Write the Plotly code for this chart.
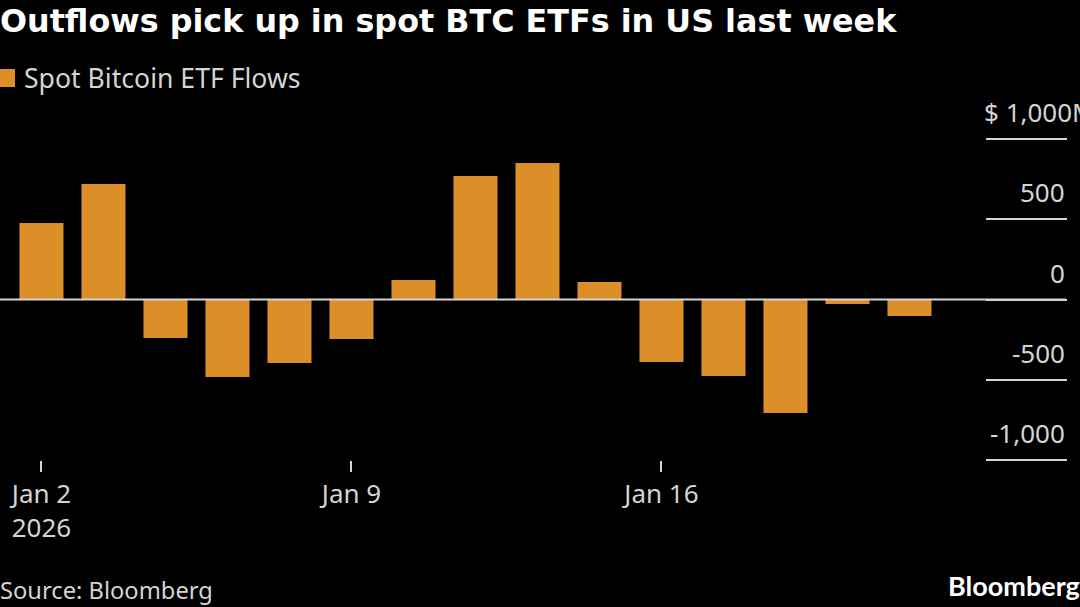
import plotly.graph_objects as go

dates = ["2026-01-02", "2026-01-05", "2026-01-06", "2026-01-07", "2026-01-08",
         "2026-01-09", "2026-01-12", "2026-01-13", "2026-01-14", "2026-01-15",
         "2026-01-16", "2026-01-20", "2026-01-21", "2026-01-22", "2026-01-23"]
flows = [477, 720, -240, -483, -396, -246, 121, 770, 850, 109, -390, -477, -707, -28, -103]
x_tick_vals = ["2026-01-02", "2026-01-09", "2026-01-16"]
x_tick_text = ["Jan 2<br>2026", "Jan 9", "Jan 16"]
y_tick_vals = [-1000, -500, 0, 500, 1000]
y_tick_text = ["-1,000", "-500", "0", "500", "$ 1,000M"]

W, H = 1080, 607
PLOT_RIGHT = 985
PLOT_TOP, PLOT_BOTTOM = 139, 460
BAR = "#dc8f28"
TXT = "#d4d4d4"
BODY = "Noto Sans"

fig = go.Figure(go.Bar(x=dates, y=flows, width=0.71, marker=dict(color=BAR, line_width=0),
                       name="Spot Bitcoin ETF Flows", showlegend=False))


def px(v):
    return v / PLOT_RIGHT


def py(v):
    return 1 - (v - PLOT_TOP) / (PLOT_BOTTOM - PLOT_TOP)


annotations = [
    dict(text="<b>Outflows pick up in spot BTC ETFs in US last week</b>", x=px(-2), y=py(20),
         font=dict(family="DejaVu Sans", size=31.8, color="#ffffff")),
    dict(text="Spot Bitcoin ETF Flows", x=px(22), y=py(78), font=dict(family=BODY, size=26.6, color=TXT)),
    dict(text="Source: Bloomberg", x=px(-2), y=py(590), font=dict(family=BODY, size=23.7, color=TXT)),
    dict(text="<b>Bloomberg</b>", x=px(946), y=py(585), font=dict(family="Lato", size=27, color="#ffffff")),
]
for a in annotations:
    a.update(xref="paper", yref="paper", xanchor="left", yanchor="middle", showarrow=False, align="left")
for v, t in zip(y_tick_vals, y_tick_text):
    annotations.append(dict(text=t, xref="paper", yref="y", x=px(1067) if v != 1000 else px(1098), y=v,
                            xanchor="right", yanchor="bottom", yshift=7, showarrow=False,
                            font=dict(family=BODY, size=26, color=TXT)))

fig.update_layout(
    width=W, height=H, autosize=False,
    margin=dict(l=0, r=W - PLOT_RIGHT, t=PLOT_TOP, b=H - PLOT_BOTTOM, pad=0),
    paper_bgcolor="#000000", plot_bgcolor="#000000",
    showlegend=False,
    annotations=annotations,
    shapes=[dict(type="rect", xref="paper", yref="paper", x0=px(0), x1=px(15),
                 y0=py(87), y1=py(69), fillcolor=BAR, line_width=0, layer="above"),
            dict(type="line", xref="paper", yref="y", x0=0, x1=px(1066), y0=0, y1=0,
                 line=dict(color=TXT, width=2), layer="above")],
    xaxis=dict(type="category", categoryorder="array", categoryarray=dates,
               range=[-0.669, 15.218], tickmode="array", tickvals=x_tick_vals, ticktext=x_tick_text,
               ticks="outside", ticklen=11, tickwidth=2, tickcolor=TXT,
               tickfont=dict(family=BODY, size=26, color=TXT),
               showgrid=False, showline=False, zeroline=False),
    yaxis=dict(side="right", range=[-1000, 1000], tickmode="array", tickvals=y_tick_vals,
               ticktext=[""] * 5, ticks="outside", ticklen=81, tickwidth=2, tickcolor=TXT,
               showgrid=False, showline=False, zeroline=False),
)
fig.write_html("out.html", config={"displayModeBar": False}, post_script=(
    "document.body.style.margin='0';document.body.style.background='#000';"
    "document.documentElement.style.overflow='hidden';"))
